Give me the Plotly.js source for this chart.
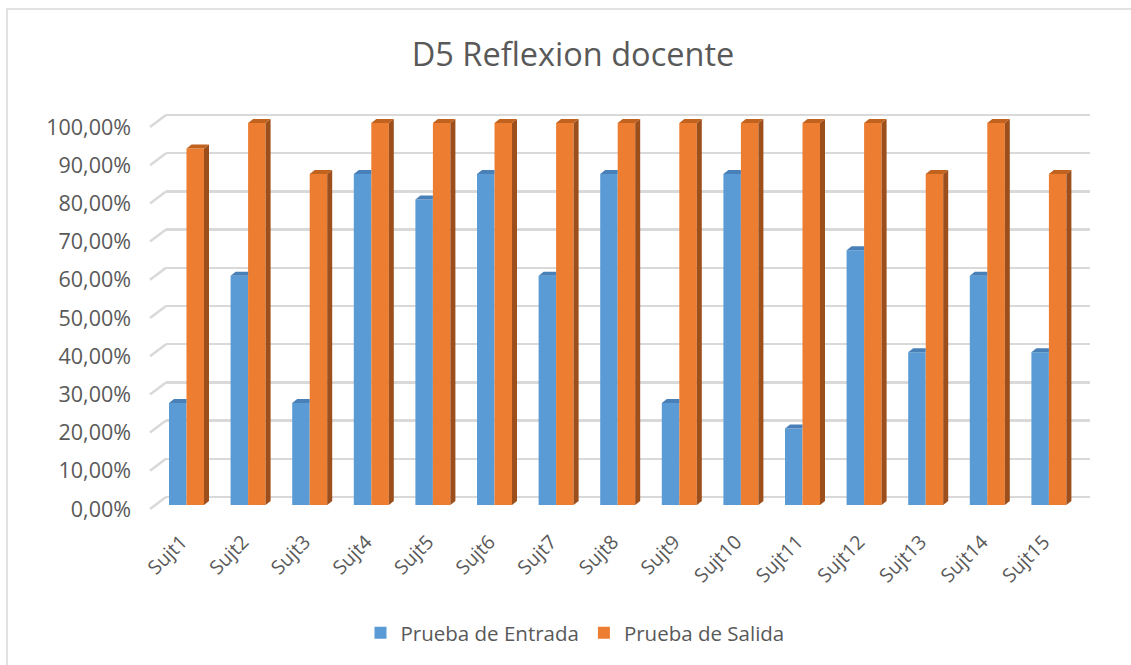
<!DOCTYPE html>
<html>
<head>
<meta charset="utf-8">
<script src="https://cdn.plot.ly/plotly-3.0.1.min.js"></script>
<style>html,body{margin:0;padding:0;background:#fff}#chart{width:1131px;height:665px}</style>
</head>
<body>
<div id="chart"></div>
<script>
// ---- data ----
const categories = ["Sujt1","Sujt2","Sujt3","Sujt4","Sujt5","Sujt6","Sujt7","Sujt8","Sujt9","Sujt10","Sujt11","Sujt12","Sujt13","Sujt14","Sujt15"];
const entrada = [26.67, 60, 26.67, 86.67, 80, 86.67, 60, 86.67, 26.67, 86.67, 20, 66.67, 40, 60, 40];
const salida  = [93.33, 100, 86.67, 100, 100, 100, 100, 100, 100, 100, 100, 100, 86.67, 100, 86.67];
const yTickVals = [0,10,20,30,40,50,60,70,80,90,100];
const yTickText = ["0,00%","10,00%","20,00%","30,00%","40,00%","50,00%","60,00%","70,00%","80,00%","90,00%","100,00%"];
const seriesNames = ["Prueba de Entrada","Prueba de Salida"];

// ---- geometry (layout, pixels) ----
const W = 1131, H = 665;
const catStart = 186.5, catStep = 61.6;      // px of category centres
const pxPerUnit = 3.82, zeroPx = 509;        // front floor edge
const yRange = [-1, 104];
const xPx = [145, 1095];
const xRange = xPx.map(p => (p - catStart) / catStep);
const yDomPx = [zeroPx - pxPerUnit*yRange[0], zeroPx - pxPerUnit*yRange[1]];
const depthY = 12;
const gridXPx = [166, 1090];

const barW = 17.5 / catStep;
const dx = 5 / catStep, dy = 4 / pxPerUnit;  // bar depth
const base = 4 / pxPerUnit;                  // bar front plane offset

const xs = categories.map((c, i) => i);

function polys(vals, off, kind) {
  const X = [], Y = [];
  vals.forEach((v, i) => {
    const xl = i + off, xr = xl + barW, top = base + v;
    let px, py;
    if (kind === 'side') { px = [xr, xr+dx, xr+dx, xr, xr]; py = [base, base+dy, top+dy, top, base]; }
    else if (kind === 'top') { px = [xl, xl+dx, xr+dx, xr, xl]; py = [top, top+dy, top+dy, top, top]; }
    else { px = [xl, xl+dx, xr, xr, xl]; py = [top, top+dy, top+dy, top, top]; }
    X.push(...px, null); Y.push(...py, null);
  });
  return {x: X, y: Y};
}

const face = (p, color) => ({type:'scatter', mode:'lines', x:p.x, y:p.y, fill:'toself', fillcolor:color,
  line:{width:0, color:color}, xaxis:'x2', yaxis:'y2', hoverinfo:'skip', showlegend:false, cliponaxis:false});

// diagonal tick lines on the left wall
const diagX = [], diagY = [];
yTickVals.forEach(v => {
  diagX.push((150 - catStart)/catStep, (166 - catStart)/catStep, null);
  diagY.push(v, v + depthY/pxPerUnit, null);
});

const traces = [
  {type:'scatter', x:[0,1], y:[0,0], mode:'lines', line:{width:0}, xaxis:'x', yaxis:'y', hoverinfo:'skip', showlegend:false},
  {type:'scatter', mode:'lines', x:diagX, y:diagY, line:{color:'#d9d9d9', width:2.5}, xaxis:'x2', yaxis:'y2', hoverinfo:'skip', showlegend:false, cliponaxis:false},
  face(polys(entrada, -barW, 'topTrim'), '#4a80b8'),
  {type:'bar', name:seriesNames[0], x:xs, y:entrada, base:base, offset:-barW, width:barW,
   marker:{color:'#5b9bd5', line:{width:0}}, xaxis:'x2', yaxis:'y2'},
  face(polys(salida, 0, 'side'), '#9c4e1b'),
  face(polys(salida, 0, 'top'), '#c2621f'),
  {type:'bar', name:seriesNames[1], x:xs, y:salida, base:base, offset:0, width:barW,
   marker:{color:'#ed7d31', line:{width:0}}, xaxis:'x2', yaxis:'y2'}
];

const FONT = '"Open Sans", sans-serif';
const layout = {
  width: W, height: H,
  margin: {l:0, r:0, t:0, b:0},
  paper_bgcolor:'#ffffff', plot_bgcolor:'rgba(0,0,0,0)',
  barmode:'overlay',
  font:{family:FONT, color:'#595959'},
  title:{text:'D5 Reflexion docente', x:573/W, xanchor:'center', y:1-55/H, yanchor:'middle',
         font:{family:FONT, size:32.5, color:'#595959'}},
  showlegend:true,
  legend:{orientation:'h', x:575/W, xanchor:'center', y:1-633/H, yanchor:'middle',
          font:{family:FONT, size:20.5, color:'#595959'}, traceorder:'normal', itemwidth:30},
  xaxis:{domain:[gridXPx[0]/W, gridXPx[1]/W], range:[0,1], visible:true, showgrid:false, zeroline:false,
         showticklabels:false, ticks:'', showline:false, fixedrange:true},
  yaxis:{domain:[(H - yDomPx[0] + depthY)/H, (H - yDomPx[1] + depthY)/H], range:yRange, anchor:'x',
         tickvals:yTickVals, showticklabels:false, ticks:'', showgrid:true, gridcolor:'#d9d9d9', gridwidth:2.5,
         zeroline:false, showline:false, fixedrange:true},
  xaxis2:{domain:[xPx[0]/W, xPx[1]/W], range:xRange, anchor:'y2', tickmode:'array', tickvals:xs, ticktext:categories,
          tickangle:-45, showgrid:false, zeroline:false, showline:false, ticks:'', ticklabelstandoff:13, ticklabelshift:-5,
          tickfont:{family:FONT, size:19.5, color:'#595959'}, fixedrange:true},
  yaxis2:{domain:[(H - yDomPx[0])/H, (H - yDomPx[1])/H], range:yRange, anchor:'x2',
          tickmode:'array', tickvals:yTickVals, ticktext:yTickText, showgrid:false, zeroline:false, showline:false,
          ticks:'', ticklabelstandoff:13, tickfont:{family:FONT, size:21.5, color:'#595959'}, fixedrange:true},
  shapes:[{type:'rect', xref:'paper', yref:'paper', x0:7/W, x1:1.02, y0:-0.02, y1:1-9/H,
           line:{color:'#d9d9d9', width:1.5}, fillcolor:'rgba(0,0,0,0)', layer:'below'}]
};

Plotly.newPlot('chart', traces, layout, {displayModeBar:false, staticPlot:true});
</script>
</body>
</html>
